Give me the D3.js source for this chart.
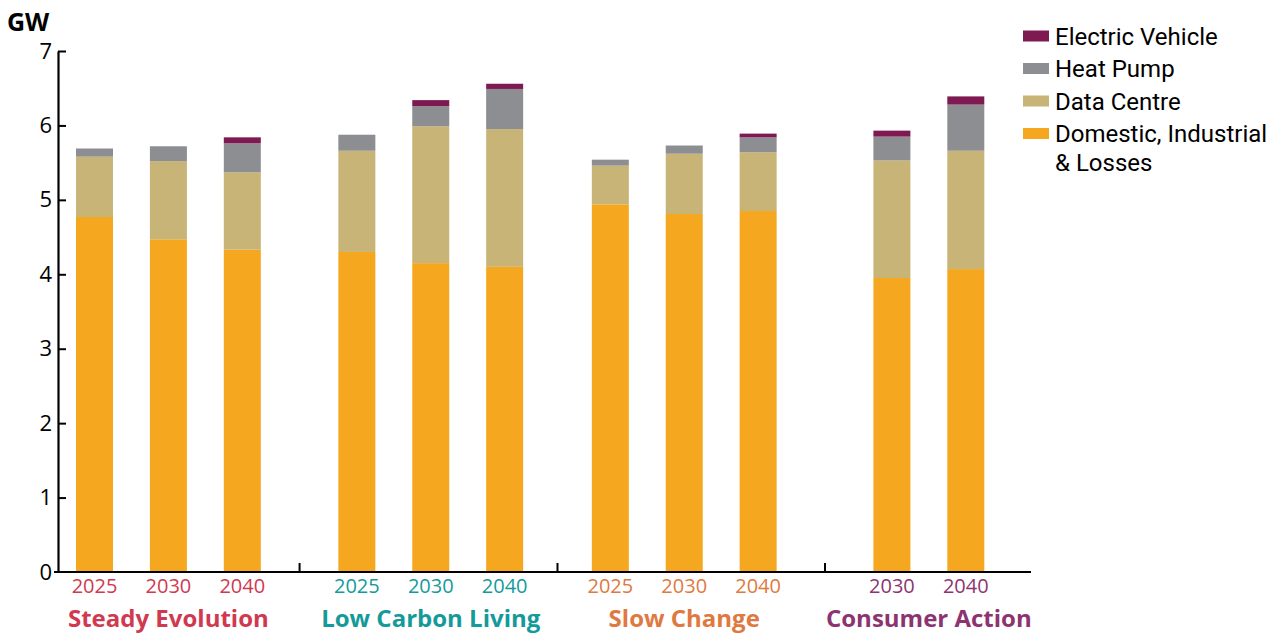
<!DOCTYPE html>
<html>
<head>
<meta charset="utf-8">
<script src="https://cdn.jsdelivr.net/npm/d3@7"></script>
<style>
  html, body { margin: 0; padding: 0; background: #fff; }
  svg { display: block; font-family: "Open Sans", "Noto Sans", sans-serif; }
</style>
</head>
<body>
<svg id="chart" width="1285" height="635"></svg>
<script>
// ---------- data ----------
const scenarios = ["Steady Evolution", "Low Carbon Living", "Slow Change", "Consumer Action"];
const scenarioYears = [["2025", "2030", "2040"], ["2025", "2030", "2040"], ["2025", "2030", "2040"], ["2030", "2040"]];
const domestic = [4.77, 4.47, 4.33, 4.30, 4.15, 4.10, 4.94, 4.81, 4.85, 3.95, 4.07];
const dataCentre = [0.81, 1.05, 1.04, 1.36, 1.84, 1.85, 0.52, 0.81, 0.79, 1.58, 1.59];
const heatPump = [0.11, 0.20, 0.39, 0.215, 0.27, 0.54, 0.08, 0.11, 0.20, 0.32, 0.62];
const electricVehicle = [0, 0, 0.08, 0, 0.08, 0.07, 0, 0, 0.05, 0.08, 0.11];
const seriesNames = ["Domestic, Industrial & Losses", "Data Centre", "Heat Pump", "Electric Vehicle"];
const yTicks = [0, 1, 2, 3, 4, 5, 6, 7];

// ---------- style / layout ----------
const seriesColors = ["#F5A81F", "#C8B476", "#8D8E92", "#7E1A51"];
const scenarioColors = ["#D0394F", "#149A9A", "#E0793F", "#8D3470"];
const groupGaps = [0.55, 0.43, 0.81]; // extra slot spacing between scenario groups
const barWidth = 37;

const svg = d3.select("#chart");

// build bar list
const bars = [];
let slot = 0;
let idx = 0;
scenarios.forEach((s, g) => {
  if (g > 0) slot += groupGaps[g - 1];
  scenarioYears[g].forEach((yr, j) => {
    bars.push({ scenario: s, g, year: yr, slot, i: idx });
    slot += 1; idx += 1;
  });
});
const maxSlot = bars[bars.length - 1].slot;

const x = d3.scaleLinear().domain([0, maxSlot]).range([94.5, 965.8]);
const y = d3.scaleLinear().domain([0, 7]).range([572, 51]);

const seriesArrays = [domestic, dataCentre, heatPump, electricVehicle];
const table = bars.map(b => {
  const o = { key: b.i };
  seriesNames.forEach((n, k) => o[n] = seriesArrays[k][b.i]);
  return o;
});
const stack = d3.stack().keys(seriesNames)(table);

// bars
svg.append("g").selectAll("g")
  .data(stack)
  .join("g")
  .attr("fill", (d, k) => seriesColors[k])
  .selectAll("rect")
  .data(d => d.filter(p => p[1] - p[0] > 0))
  .join("rect")
  .attr("x", p => x(bars[p.data.key].slot) - barWidth / 2)
  .attr("width", barWidth)
  .attr("y", p => y(p[1]))
  .attr("height", p => y(p[0]) - y(p[1]));

// y axis
const yAxis = d3.axisLeft(y).tickValues(yTicks).tickFormat(d3.format("d"))
  .tickSizeInner(-8).tickSizeOuter(0).tickPadding(6);
const yg = svg.append("g").attr("transform", "translate(58,0)").call(yAxis);
yg.select(".domain").attr("stroke", "#000").attr("stroke-width", 2.2);
yg.selectAll(".tick line").attr("stroke", "#000").attr("stroke-width", 2);
yg.selectAll(".tick text").attr("font-size", 22).attr("fill", "#000")
  .attr("font-family", "'Open Sans', sans-serif");
yg.selectAll(".tick").filter(d => d === 0).select("line").remove();

// x axis line
svg.append("line").attr("x1", 54).attr("x2", 1031).attr("y1", y(0)).attr("y2", y(0))
  .attr("stroke", "#000").attr("stroke-width", 2.2);

// group dividers
const dividers = [];
for (let g = 1; g < scenarios.length; g++) {
  const last = bars.filter(b => b.g === g - 1).pop();
  const first = bars.find(b => b.g === g);
  dividers.push((x(last.slot) + x(first.slot)) / 2);
}
svg.append("g").selectAll("line").data(dividers).join("line")
  .attr("x1", d => d).attr("x2", d => d)
  .attr("y1", y(0)).attr("y2", y(0) - 9)
  .attr("stroke", "#000").attr("stroke-width", 2);

// year labels
svg.append("g").selectAll("text").data(bars).join("text")
  .attr("x", b => x(b.slot))
  .attr("y", 593)
  .attr("text-anchor", "middle")
  .attr("font-size", 20)
  .attr("fill", b => scenarioColors[b.g])
  .text(b => b.year);

// scenario labels
svg.append("g").selectAll("text").data(scenarios).join("text")
  .attr("x", (s, g) => d3.mean(bars.filter(b => b.g === g), b => x(b.slot)))
  .attr("y", 627)
  .attr("text-anchor", "middle")
  .attr("font-size", 24)
  .attr("font-weight", "bold")
  .attr("fill", (s, g) => scenarioColors[g])
  .text(s => s);

// unit label
svg.append("text").attr("x", 7).attr("y", 31)
  .attr("font-size", 25).attr("font-weight", "bold").attr("fill", "#000")
  .text("GW");

// legend (reverse order: EV on top)
const legendItems = [
  { name: "Electric Vehicle", k: 3, lines: ["Electric Vehicle"] },
  { name: "Heat Pump", k: 2, lines: ["Heat Pump"] },
  { name: "Data Centre", k: 1, lines: ["Data Centre"] },
  { name: "Domestic, Industrial & Losses", k: 0, lines: ["Domestic, Industrial", "& Losses"] }
];
const legY = d3.scalePoint().domain(legendItems.map(d => d.name)).range([36, 133.5]);
const lg = svg.append("g").attr("font-family", "Roboto, 'Open Sans', sans-serif");
legendItems.forEach(it => {
  const cy = legY(it.name);
  lg.append("rect").attr("x", 1023).attr("y", cy - 5.5).attr("width", 26).attr("height", 11)
    .attr("fill", seriesColors[it.k]);
  it.lines.forEach((ln, li) => {
    lg.append("text").attr("x", 1055).attr("y", cy + 8.5 + li * 28.5)
      .attr("font-size", 24).attr("fill", "#000").text(ln);
  });
});
</script>
</body>
</html>
